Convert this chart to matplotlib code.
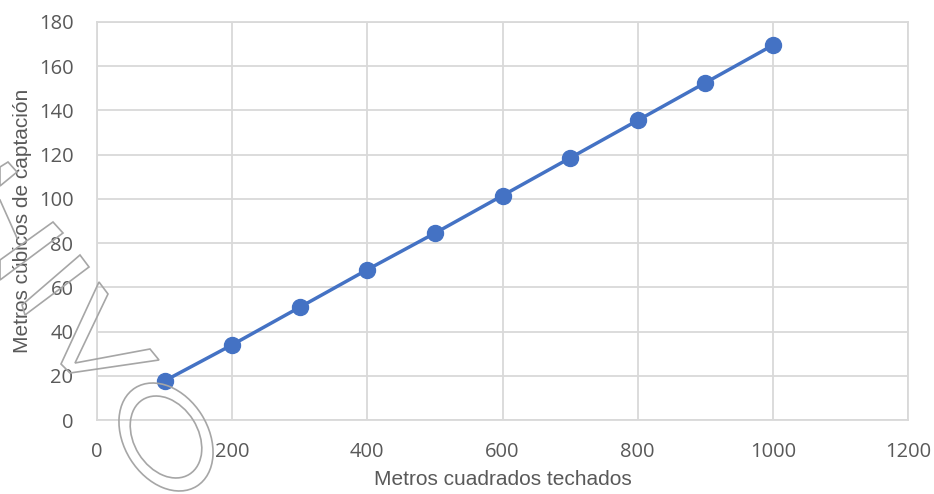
import numpy as np
import matplotlib.pyplot as plt
from matplotlib.patches import Ellipse, Polygon
from matplotlib.transforms import IdentityTransform

## Data
area_m2 = [100, 200, 300, 400, 500, 600, 700, 800, 900, 1000]
volume_m3 = [17.7, 34, 51, 68, 84.5, 101.5, 118.5, 135.5, 152.5, 169.5]
x_ticks = [0, 200, 400, 600, 800, 1000, 1200]
y_ticks = [0, 20, 40, 60, 80, 100, 120, 140, 160, 180]

W, H = 934, 494
fig = plt.figure(figsize=(W / 100, H / 100), dpi=100)
ax = fig.add_axes([97 / W, 1 - 420 / H, (908 - 97) / W, (420 - 22) / H])

grey = '#595959'
grid = '#d9d9d9'

ax.plot(area_m2, volume_m3, color='#4472C4', lw=2.5, marker='o',
        markersize=11.5, zorder=5, clip_on=False)

ax.set_xlim(0, 1200)
ax.set_ylim(0, 180)
ax.set_xticks(x_ticks)
ax.set_yticks(y_ticks)
ax.grid(True, color=grid, lw=1.3)
ax.set_axisbelow(True)
for s in ax.spines.values():
    s.set_color(grid)
    s.set_linewidth(1.3)
ax.tick_params(length=0, labelsize=14.5, labelcolor=grey)
ax.tick_params(axis='x', pad=15.5)
ax.tick_params(axis='y', pad=17)
for lab in ax.get_xticklabels() + ax.get_yticklabels():
    lab.set_family('Open Sans')

ax.set_xlabel('Metros cuadrados techados', fontsize=15, color=grey,
              family='Liberation Sans', labelpad=6)
ax.set_ylabel('Metros cúbicos de captación', fontsize=15, color=grey,
              family='Liberation Sans', labelpad=5)

## Outline shapes overlaid on the left of the picture (pixel coords, y down)
def px(x, y):
    return (x, H - y)

wm = dict(fill=False, edgecolor='#a6a6a6', lw=1.2, transform=IdentityTransform(),
          clip_on=False, zorder=4)
shapes = [
    [(0, 167), (8, 162), (17, 172), (0, 186)],
    [(0, 260), (53, 222), (63, 233), (0, 280)],
    [(22, 305), (80, 255), (89, 267), (25, 315)],
    [(99, 282), (108, 294), (75, 363), (150, 349), (159, 360), (70, 373),
     (61, 364)],
]
for pts in shapes:
    fig.add_artist(Polygon([px(*p) for p in pts], closed=True, **wm))
fig.add_artist(plt.Line2D([0, 17], [H - 200, H - 238], color='#a6a6a6',
                          lw=1.2, transform=IdentityTransform()))

cx, cy = 166, 437
for w, h in [(84, 116), (64, 88)]:
    fig.add_artist(Ellipse(px(cx, cy), w, h, angle=32, **wm))

fig.savefig('out.png', dpi=100)
